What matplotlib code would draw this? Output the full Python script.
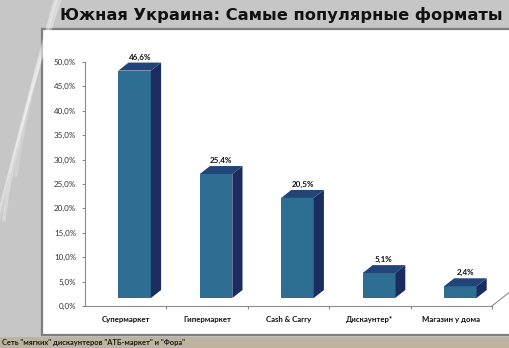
import matplotlib
matplotlib.use("Agg")
from matplotlib import pyplot as plt
from matplotlib.patches import Rectangle, Polygon
import numpy as np

categories = ["Супермаркет", "Гипермаркет", "Cash & Carry", "Дискаунтер*", "Магазин у дома"]
shares = [46.6, 25.4, 20.5, 5.1, 2.4]
value_labels = ["46,6%", "25,4%", "20,5%", "5,1%", "2,4%"]
y_ticks = [0, 5, 10, 15, 20, 25, 30, 35, 40, 45, 50]
y_tick_labels = [("%.1f%%" % t).replace(".", ",") for t in y_ticks]

title = "Южная Украина: Самые популярные форматы"
footnote = 'Сеть "мягких" дискаунтеров "АТБ-маркет" и "Фора"'

W, H = 510, 348
fig = plt.figure(figsize=(W / 100, H / 100), dpi=100)
fig.patch.set_facecolor("#c6c6c6")

# background layer in pixel coordinates
bg = fig.add_axes([0, 0, 1, 1])
bg.set_xlim(0, W)
bg.set_ylim(H, 0)
bg.axis("off")
# faint light streaks on the grey backdrop
t = np.linspace(0, 1, 100)
for k, a in enumerate([0.35, 0.2, 0.3, 0.2]):
    xs = -20 + 90 * t + 12 * k
    ys = 310 - 340 * t ** 0.8 - 45 * k
    bg.plot(xs, ys, color="white", lw=1.5 + 0.5 * k, alpha=a, solid_capstyle="round")
bg.add_patch(Rectangle((0, 337), W, 11, facecolor="#bcb49e", edgecolor="none"))
bg.add_patch(Rectangle((42, 29), 480, 306, facecolor="white",
                       edgecolor="#7f7f7f", lw=1.6))
bg.text(281, 15, title, ha="center", va="center", fontsize=11.7,
        fontweight="bold", family="DejaVu Sans", color="#111111")
bg.text(2, 342, footnote, ha="left", va="center", fontsize=5.4,
        fontweight="bold", family="Lato", color="#1a1a1a")

# chart area
ax = fig.add_axes([85 / W, 42 / H, 407 / W, 244 / H])
ax.set_facecolor("none")
ax.set_xlim(0, len(categories))
ax.set_ylim(0, 50)

front_col = "#2f6e93"
side_col = "#1b2c60"
top_col = "#224479"
x_off, w = 0.41, 0.40
dx, dy = 0.125, 1.64
base = 1.64

for i, v in enumerate(shares):
    x0 = i + x_off
    x1 = x0 + w
    ax.add_patch(Rectangle((x0, base), w, v, facecolor=front_col, edgecolor="none"))
    ax.add_patch(Polygon([(x1, base), (x1 + dx, base + dy),
                          (x1 + dx, base + v + dy), (x1, base + v)],
                         closed=True, facecolor=side_col, edgecolor="none"))
    ax.add_patch(Polygon([(x0, base + v), (x1, base + v),
                          (x1 + dx, base + v + dy), (x0 + dx, base + v + dy)],
                         closed=True, facecolor=top_col, edgecolor="none"))
    ax.annotate(value_labels[i], (x0 + (w + dx) / 2, base + v + dy),
                xytext=(0, 1.5), textcoords="offset points", ha="center",
                va="bottom", fontsize=5.8, fontweight="bold", family="Lato",
                color="#111111", annotation_clip=False)

# floor edge running back from the right end of the axis
ax.plot([len(categories), len(categories) + 0.25], [0, 3.3],
        color="#8c8c8c", lw=0.8, clip_on=False)

for s in ["top", "right"]:
    ax.spines[s].set_visible(False)
for s in ["left", "bottom"]:
    ax.spines[s].set_color("#8c8c8c")
    ax.spines[s].set_linewidth(0.8)

ax.set_yticks(y_ticks)
ax.set_yticklabels(y_tick_labels, fontsize=5.8, family="Lato", color="#333333")
ax.tick_params(axis="y", length=2.5, width=0.8, color="#8c8c8c", pad=4)

ax.set_xticks(range(1, len(categories) + 1))
ax.set_xticklabels([])
ax.tick_params(axis="x", which="major", length=2.5, width=0.8, color="#8c8c8c")
ax.set_xticks(np.arange(len(categories)) + 0.5, minor=True)
ax.set_xticklabels(categories, minor=True, fontsize=5.6, fontweight="bold",
                   family="Lato", color="#111111")
ax.tick_params(axis="x", which="minor", length=0, pad=7)

fig.savefig("out.png", dpi=100, facecolor=fig.get_facecolor())
